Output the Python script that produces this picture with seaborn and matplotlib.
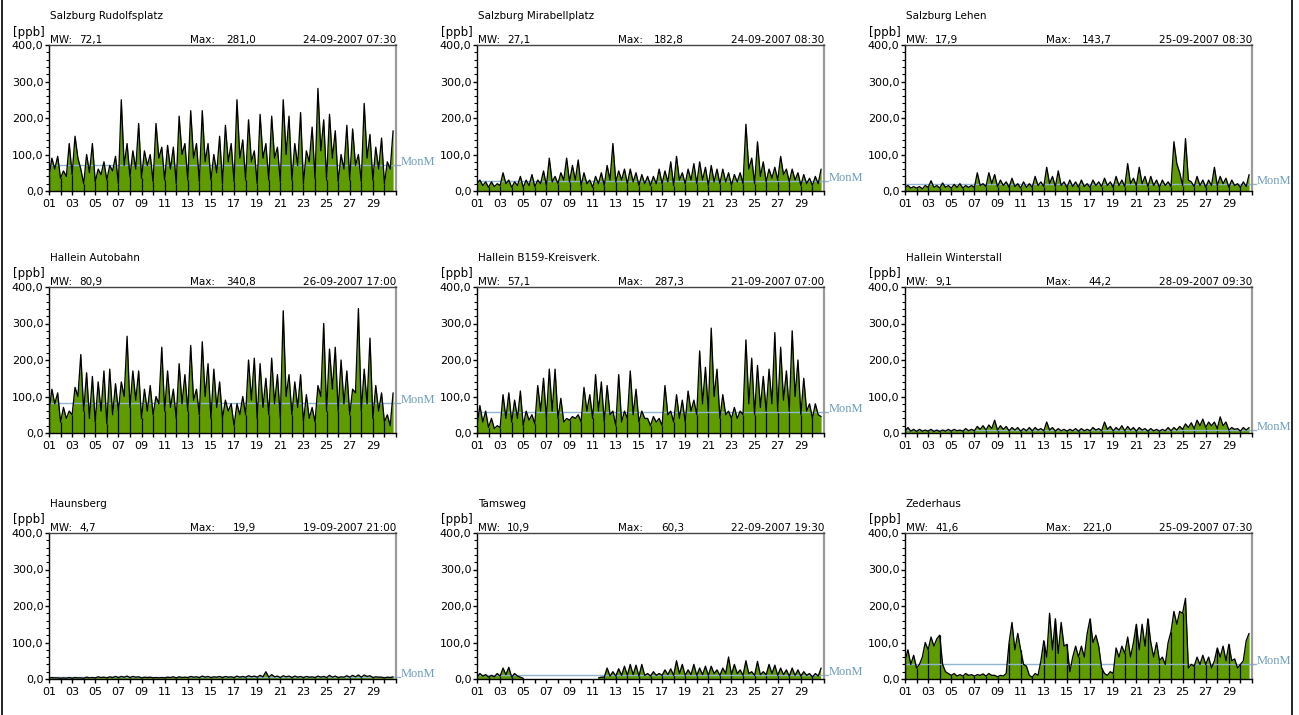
import numpy as np
import pandas as pd
import matplotlib
matplotlib.use("Agg")
import matplotlib.pyplot as plt
import seaborn as sns
from matplotlib.ticker import MultipleLocator, FixedLocator, FuncFormatter
from matplotlib.transforms import blended_transform_factory
from matplotlib.lines import Line2D

# ---------------- data ----------------
stations = ["Salzburg Rudolfsplatz", "Salzburg Mirabellplatz", "Salzburg Lehen",
            "Hallein Autobahn", "Hallein B159-Kreisverk.", "Hallein Winterstall",
            "Haunsberg", "Tamsweg", "Zederhaus"]
mean_values = [72.1, 27.1, 17.9, 80.9, 57.1, 9.1, 4.7, 10.9, 41.6]
max_values = [281.0, 182.8, 143.7, 340.8, 287.3, 44.2, 19.9, 60.3, 221.0]
max_times = ["24-09-2007 07:30", "24-09-2007 08:30", "25-09-2007 08:30",
             "26-09-2007 17:00", "21-09-2007 07:00", "28-09-2007 09:30",
             "19-09-2007 21:00", "22-09-2007 19:30", "25-09-2007 07:30"]
day_ticks = list(range(1, 32))
day_labels = ["01", "03", "05", "07", "09", "11", "13", "15", "17", "19",
              "21", "23", "25", "27", "29"]
y_ticks = [0, 100, 200, 300, 400]
samples_per_day = 4
nan = float("nan")

rudolfsplatz = [
    40, 90, 60, 95, 35, 55, 40, 130,
    45, 150, 90, 60, 20, 100, 50, 130,
    25, 60, 45, 80, 30, 70, 55, 95,
    20, 250, 70, 130, 40, 110, 60, 185,
    35, 110, 70, 100, 25, 185, 90, 120,
    30, 125, 60, 120, 20, 205, 100, 130,
    30, 220, 90, 130, 25, 220, 80, 130,
    30, 100, 50, 150, 20, 180, 80, 130,
    25, 250, 90, 140, 30, 195, 80, 110,
    20, 210, 90, 130, 30, 205, 90, 120,
    25, 250, 100, 205, 30, 130, 70, 215,
    20, 110, 80, 175, 35, 281, 110, 195,
    30, 210, 90, 165, 25, 100, 60, 180,
    30, 170, 70, 100, 25, 240, 90, 155,
    30, 120, 60, 145, 20, 80, 60, 165]

mirabellplatz = [
    20, 30, 15, 25, 10, 25, 12, 20,
    15, 50, 20, 30, 10, 25, 15, 40,
    10, 30, 15, 45, 12, 30, 20, 55,
    15, 90, 25, 40, 20, 50, 30, 90,
    25, 70, 30, 85, 15, 50, 20, 30,
    10, 40, 20, 50, 15, 70, 30, 130,
    25, 55, 30, 60, 20, 60, 25, 50,
    15, 45, 20, 40, 15, 40, 20, 60,
    20, 55, 25, 80, 15, 95, 30, 50,
    20, 60, 30, 75, 20, 80, 30, 65,
    15, 70, 25, 60, 20, 60, 25, 50,
    15, 45, 25, 50, 20, 182.8, 60, 90,
    20, 135, 40, 80, 25, 60, 35, 65,
    30, 95, 45, 60, 25, 60, 30, 50,
    15, 45, 20, 35, 15, 40, 20, 60]

lehen = [
    10, 15, 8, 12, 8, 12, 6, 15,
    10, 28, 10, 15, 8, 22, 10, 15,
    8, 18, 10, 20, 8, 15, 10, 15,
    10, 50, 15, 20, 12, 50, 20, 45,
    12, 30, 15, 25, 10, 35, 12, 20,
    8, 25, 10, 20, 10, 40, 15, 25,
    12, 65, 20, 40, 12, 55, 15, 25,
    10, 30, 12, 25, 10, 30, 12, 20,
    10, 30, 15, 25, 12, 35, 15, 25,
    10, 40, 15, 30, 12, 75, 20, 35,
    15, 65, 20, 40, 12, 40, 15, 30,
    10, 30, 15, 25, 12, 135, 75, 50,
    15, 143.7, 30, 25, 12, 40, 15, 30,
    10, 30, 15, 65, 15, 40, 20, 35,
    10, 30, 15, 20, 10, 25, 12, 45]

autobahn = [
    60, 120, 80, 110, 30, 70, 40, 60,
    50, 125, 100, 215, 60, 165, 40, 155,
    30, 140, 60, 170, 25, 175, 50, 135,
    60, 140, 100, 265, 70, 170, 90, 170,
    40, 120, 60, 130, 50, 100, 80, 235,
    60, 170, 70, 120, 40, 190, 80, 160,
    60, 240, 90, 120, 50, 250, 100, 190,
    40, 175, 70, 140, 40, 90, 60, 80,
    20, 80, 50, 100, 50, 200, 90, 205,
    40, 190, 70, 150, 50, 205, 80, 160,
    40, 335, 100, 160, 50, 140, 70, 160,
    30, 105, 40, 70, 30, 130, 100, 300,
    60, 230, 120, 235, 60, 200, 80, 170,
    50, 120, 110, 340.8, 60, 175, 80, 260,
    40, 130, 60, 110, 30, 50, 20, 110]

b159 = [
    20, 75, 30, 60, 15, 40, 12, 20,
    15, 105, 40, 110, 30, 90, 40, 115,
    20, 60, 35, 50, 25, 130, 60, 150,
    40, 175, 60, 175, 40, 95, 30, 40,
    35, 45, 40, 50, 30, 125, 60, 105,
    40, 160, 60, 140, 30, 130, 50, 60,
    20, 160, 30, 60, 40, 170, 50, 120,
    30, 60, 40, 40, 20, 45, 30, 40,
    20, 130, 50, 60, 30, 105, 40, 90,
    30, 115, 60, 90, 50, 225, 80, 180,
    60, 287.3, 100, 175, 40, 105, 50, 60,
    40, 70, 40, 60, 50, 255, 80, 205,
    50, 185, 70, 155, 60, 175, 80, 275,
    60, 235, 90, 170, 60, 280, 100, 200,
    50, 150, 60, 80, 40, 80, 50, 45]

winterstall = [
    5, 15, 5, 10, 4, 10, 5, 8,
    5, 10, 4, 8, 4, 8, 5, 10,
    5, 10, 6, 8, 5, 12, 6, 10,
    6, 18, 10, 20, 8, 22, 12, 35,
    8, 20, 10, 18, 6, 15, 8, 15,
    5, 12, 6, 15, 6, 15, 8, 12,
    6, 30, 8, 15, 5, 12, 6, 10,
    5, 10, 6, 12, 5, 12, 6, 10,
    6, 15, 8, 12, 6, 30, 10, 18,
    6, 15, 8, 20, 6, 18, 8, 15,
    5, 15, 8, 12, 5, 12, 6, 10,
    5, 10, 6, 15, 6, 15, 8, 18,
    10, 25, 15, 28, 12, 35, 20, 38,
    15, 30, 20, 30, 12, 44.2, 20, 30,
    8, 15, 10, 12, 5, 15, 8, 15]

haunsberg = [
    2, 4, 3, 3, 2, 3, 2, 4,
    2, 4, 3, 3, 2, 5, 3, 4,
    3, 6, 4, 5, 3, 6, 4, 7,
    4, 7, 5, 8, 4, 7, 5, 6,
    3, 5, 4, 5, 3, 4, 3, 4,
    3, 5, 4, 6, 3, 6, 4, 5,
    4, 7, 5, 6, 4, 8, 5, 7,
    4, 6, 5, 7, 4, 7, 5, 6,
    4, 8, 5, 7, 5, 9, 6, 8,
    5, 10, 6, 19.9, 5, 12, 6, 8,
    4, 9, 6, 8, 4, 8, 5, 7,
    4, 7, 5, 6, 4, 8, 5, 7,
    4, 10, 5, 8, 4, 6, 5, 9,
    5, 10, 6, 11, 5, 11, 7, 9,
    4, 6, 5, 5, 3, 5, 4, 6]

tamsweg = [
    5, 15, 8, 12, 5, 10, 6, 15,
    8, 30, 12, 32, 5, 15, 8, 5,
    2, nan, nan, nan, nan, nan, nan, nan,
    nan, nan, nan, nan, nan, nan, nan, nan,
    nan, nan, nan, nan, nan, nan, nan, nan,
    nan, nan, 3, 5, 5, 30, 8, 20,
    8, 28, 10, 35, 10, 40, 12, 38,
    8, 40, 10, 15, 8, 20, 10, 15,
    10, 25, 12, 28, 10, 50, 15, 40,
    10, 25, 12, 40, 10, 30, 12, 35,
    10, 35, 15, 25, 10, 30, 15, 60.3,
    12, 40, 15, 25, 10, 50, 15, 20,
    10, 48, 12, 20, 12, 40, 15, 38,
    10, 30, 12, 25, 8, 30, 10, 25,
    8, 20, 10, 15, 5, 15, 8, 30]

zederhaus = [
    50, 80, 40, 65, 30, 40, 60, 100,
    80, 115, 90, 110, 120, 40, 20, 15,
    10, 15, 8, 12, 8, 15, 10, 12,
    8, 12, 10, 14, 8, 15, 10, 10,
    6, 10, 8, 15, 100, 155, 80, 125,
    80, 40, 35, 10, 5, 15, 10, 50,
    105, 60, 180, 80, 165, 70, 155, 90,
    95, 20, 60, 90, 60, 90, 60, 125,
    165, 100, 120, 90, 30, 15, 10, 20,
    15, 85, 60, 90, 70, 115, 60, 100,
    150, 80, 150, 90, 165, 100, 60, 100,
    50, 60, 40, 100, 130, 185, 150, 185,
    180, 221.0, 30, 40, 35, 60, 40, 65,
    40, 60, 30, 50, 85, 60, 90, 50,
    95, 50, 55, 30, 40, 50, 105, 125]

series = [rudolfsplatz, mirabellplatz, lehen, autobahn, b159,
          winterstall, haunsberg, tamsweg, zederhaus]

# ---------------- style ----------------
sns.set_theme(style="ticks", rc={
    "axes.linewidth": 1.0,
    "xtick.major.size": 3, "ytick.major.size": 3, "ytick.minor.size": 2,
    "xtick.major.width": 1.0, "ytick.major.width": 1.0, "ytick.minor.width": 0.8,
    "xtick.direction": "out", "ytick.direction": "out",
    "axes.edgecolor": "black", "text.color": "black",
    "xtick.color": "black", "ytick.color": "black", "axes.labelcolor": "black",
})
plt.rcParams["font.family"] = ["DejaVu Sans"]

W, H = 1299, 715
fig = plt.figure(figsize=(W / 100, H / 100), dpi=100)
fig.patch.set_facecolor("white")

col_left = [49, 477, 905]
row_top = [45, 287, 533]
aw, ah = 347, 146
green = "#5f9c00"
mean_color = "#8fb5cf"
mean_text_color = "#6d9dbd"
fs = 7.5


def fmt(v):
    return f"{v:.1f}".replace(".", ",")


for i, name in enumerate(stations):
    r, c = divmod(i, 3)
    ax = fig.add_axes([col_left[c] / W, 1 - (row_top[r] + ah) / H, aw / W, ah / H])
    y = np.array(series[i], dtype=float)
    x = 1 + np.arange(len(y)) / samples_per_day
    df = pd.DataFrame({"day": x, "ppb": y})
    df["seg"] = np.cumsum(np.isnan(df["ppb"].to_numpy()))
    df = df.dropna()

    ax.fill_between(x, y, 0, color=green, linewidth=0, zorder=1)
    # day separators inside the filled area
    idx = [k for k in range(0, len(y), samples_per_day) if not np.isnan(y[k])]
    ax.vlines(x[idx], 0, y[idx], color="black", linewidth=0.9, zorder=2)
    sns.lineplot(data=df, x="day", y="ppb", units="seg", estimator=None,
                 color="black", linewidth=0.95, ax=ax, zorder=3, legend=False)

    # monthly mean line
    ax.axhline(mean_values[i], xmin=0, xmax=1 + 4 / aw, color=mean_color,
               linewidth=1.0, clip_on=False, zorder=2.5)
    trans = blended_transform_factory(ax.transAxes, ax.transData)
    ax.text(1 + 5 / aw, mean_values[i], "MonM", transform=trans,
            ha="left", va="baseline", fontsize=9, color=mean_text_color,
            family=["Liberation Serif", "DejaVu Serif"], clip_on=False)

    ax.set_xlim(1, 31)
    ax.set_ylim(0, 400)
    ax.xaxis.set_major_locator(FixedLocator(day_ticks))
    ax.xaxis.set_major_formatter(FuncFormatter(
        lambda v, p: day_labels[(int(round(v)) - 1) // 2]
        if int(round(v)) % 2 == 1 and int(round(v)) <= 29 else ""))
    ax.yaxis.set_major_locator(FixedLocator(y_ticks))
    ax.yaxis.set_minor_locator(MultipleLocator(20))
    ax.yaxis.set_major_formatter(FuncFormatter(lambda v, p: fmt(v)))
    ax.tick_params(axis="x", labelsize=8, pad=3)
    ax.tick_params(axis="y", labelsize=8, pad=1)
    ax.set_xlabel("")
    ax.set_ylabel("")
    ax.spines["top"].set_color("#444444")
    ax.spines["right"].set_color("#9a9a9a")
    ax.spines["right"].set_linewidth(1.6)

    tr = ax.transAxes
    ax.text(1 / aw, 1 + 29 / ah, name, transform=tr, ha="left", va="center", fontsize=fs)
    ax.text(-4 / aw, 1 + 13 / ah, "[ppb]", transform=tr, ha="right", va="center", fontsize=8.5)
    ax.text(1 / aw, 1 + 5 / ah, "MW:", transform=tr, ha="left", va="center", fontsize=fs)
    ax.text(30 / aw, 1 + 5 / ah, fmt(mean_values[i]), transform=tr, ha="left", va="center", fontsize=fs)
    ax.text(141 / aw, 1 + 5 / ah, "Max:", transform=tr, ha="left", va="center", fontsize=fs)
    ax.text(207 / aw, 1 + 5 / ah, fmt(max_values[i]), transform=tr, ha="right", va="center", fontsize=fs)
    ax.text(1.0, 1 + 5 / ah, max_times[i], transform=tr, ha="right", va="center", fontsize=fs)

# outer frame lines (left and right)
fig.add_artist(Line2D([1.5 / W, 1.5 / W], [0, 1], transform=fig.transFigure, color="black", linewidth=1.2))
fig.add_artist(Line2D([1292 / W, 1292 / W], [0, 1], transform=fig.transFigure, color="black", linewidth=1.2))

fig.savefig("out.png", dpi=100)
